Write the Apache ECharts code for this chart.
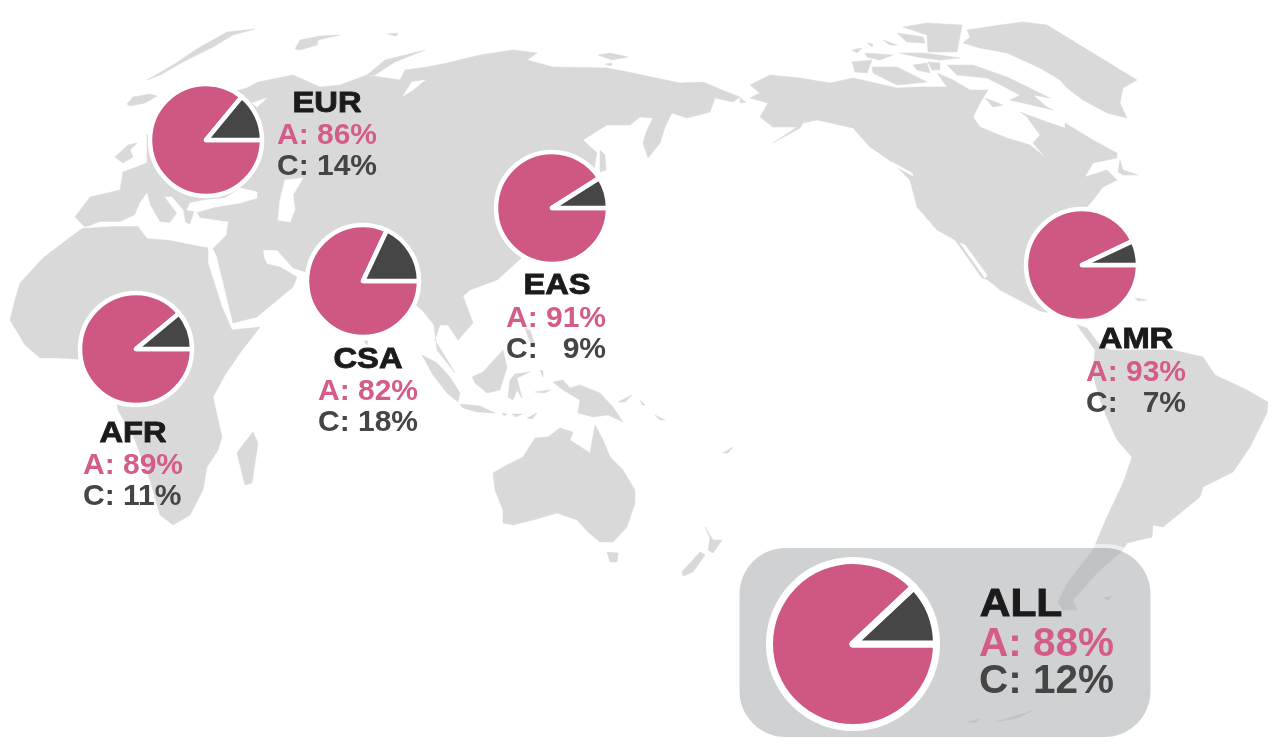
<!DOCTYPE html>
<html><head><meta charset="utf-8">
<style>html,body{margin:0;padding:0;background:#fff}#c{width:1280px;height:749px}</style>
<script src="https://cdn.jsdelivr.net/npm/echarts@6/dist/echarts.min.js"></script>
</head><body><div id="c"></div>
<script>
// ---- chart data ----
var regions = ['EUR','AFR','CSA','EAS','AMR','ALL'];
var shareA  = [86,89,82,91,93,88];
var shareC  = [14,11,18,9,7,12];
var labelA  = ['A: 86%','A: 89%','A: 82%','A: 91%','A: 93%','A: 88%'];
var labelC  = ['C: 14%','C: 11%','C: 18%','C:   9%','C:   7%','C: 12%'];

// ---- layout ----
var pieLayout = [
  {c:[206,140],r:56,b:4.5},{c:[136,349],r:56,b:4.5},{c:[363,281],r:56,b:4.5},
  {c:[552,208],r:56,b:4.5},{c:[1082,265],r:56,b:4.5},{c:[853,644],r:83.5,b:7}
];
var textLayout = [
  {tx:327,ty:104,lx:277,ay:136,cy:167,tf:30,lf:30},
  {tx:133,ty:434,lx:83,ay:466,cy:497,tf:30,lf:30},
  {tx:368,ty:360,lx:318,ay:392,cy:423,tf:30,lf:30},
  {tx:557,ty:286,lx:506,ay:319,cy:350,tf:30,lf:30},
  {tx:1136,ty:340,lx:1086,ay:373,cy:404,tf:30,lf:30},
  {tx:1021,ty:605,lx:979,ay:645,cy:682,tf:39,lf:40.5}
];

// ---- decorative base map outlines (screen space) ----
var eurasia = [[147,135],[200,100],[247,88],[258,82],[293,75],[320,87],[340,85],[367,75],[400,80],[405,70],[427,67],[447,63],[480,55],[513,50],[537,53],[527,60],[553,67],[607,68],[633,73],[680,83],[703,82],[727,92],[740,97],[733,102],[715,98],[710,112],[687,118],[672,113],[665,127],[660,143],[648,158],[643,143],[647,130],[653,118],[640,117],[630,125],[607,125],[583,140],[597,153],[590,190],[530,250],[517,262],[497,280],[470,290],[463,296],[473,323],[458,340],[448,325],[440,325],[435,340],[452,368],[455,373],[437,350],[434,325],[422,310],[410,300],[390,300],[368,338],[335,300],[315,275],[293,268],[277,250],[263,250],[264,258],[267,264],[280,267],[297,277],[293,287],[257,317],[233,323],[217,257],[213,248],[150,232],[84,226],[75,217],[90,197],[120,190],[123,172],[147,163]];
var africa = [[43,258],[60,245],[80,230],[90,224],[200,224],[208,250],[208,263],[222,307],[232,330],[260,327],[240,353],[225,375],[213,397],[222,437],[218,450],[207,467],[203,490],[190,515],[173,525],[160,515],[150,480],[135,440],[118,410],[115,385],[90,360],[60,358],[40,358],[25,345],[10,320],[15,300],[20,283]];
var northAmerica = [[750,85],[770,75],[800,78],[830,83],[853,78],[897,88],[917,87],[947,87],[937,73],[953,80],[970,90],[988,90],[980,103],[973,117],[980,127],[1007,138],[1030,145],[1045,157],[1033,143],[1040,135],[1027,117],[1020,112],[1047,122],[1065,128],[1065,123],[1093,140],[1117,153],[1117,158],[1093,163],[1085,177],[1107,170],[1117,180],[1103,187],[1093,200],[1087,207],[1075,260],[1090,320],[1040,311],[1000,290],[988,280],[982,278],[955,240],[937,230],[917,207],[910,180],[892,162],[870,147],[853,128],[817,120],[803,123],[800,128],[773,143],[797,127],[773,127],[760,117],[768,103],[750,98],[760,93]];
var southAmerica = [[1077,325],[1087,328],[1098,343],[1110,350],[1173,350],[1203,357],[1215,375],[1247,390],[1268,402],[1267,413],[1250,447],[1233,472],[1203,487],[1200,497],[1163,527],[1153,525],[1152,537],[1127,543],[1123,550],[1097,573],[1073,600],[1077,610],[1063,610],[1058,602],[1067,583],[1093,550],[1107,517],[1123,483],[1132,457],[1117,440],[1108,420],[1100,400],[1093,375],[1095,350]];
var greenland = [[967,30],[1000,25],[1023,22],[1047,25],[1137,80],[1123,88],[1120,103],[1127,118],[1107,113],[1083,100],[1067,88],[1060,80],[1040,68],[1007,53],[980,48],[963,43],[970,37]];
var australia = [[493,473],[507,465],[523,457],[535,438],[548,437],[560,428],[573,432],[570,440],[590,453],[595,425],[603,440],[610,457],[623,470],[635,490],[635,503],[627,527],[613,542],[600,542],[588,532],[577,520],[557,513],[533,520],[513,525],[503,523],[503,510],[495,490]];
var islands = [
  [[127,104],[133,97],[150,94],[157,96],[145,103],[130,106]],
  [[147,80],[173,65],[200,47],[227,32],[255,29],[233,35],[213,47],[183,62],[160,75]],
  [[295,49],[300,40],[320,36],[340,35],[318,40],[317,45],[300,50]],
  [[388,34],[398,33],[396,36]],
  [[367,75],[385,60],[425,50],[395,62],[375,75]],
  [[598,55],[610,53],[628,57],[612,60]],[[605,64],[612,63],[611,66]],
  [[115,157],[128,145],[137,143],[130,150],[133,157],[123,163]],
  [[600,150],[605,155],[606,170],[600,172]],[[364,341],[368,341],[367,345]],
  [[253,432],[258,443],[252,483],[245,485],[237,453],[245,442]],
  [[422,355],[437,363],[450,377],[460,393],[458,402],[447,393],[433,375]],
  [[460,404],[480,406],[495,413],[477,412],[463,408]],
  [[502,413],[507,414],[504,416]],[[512,414],[522,414],[516,417]],[[527,418],[537,413],[532,419]],
  [[472,377],[483,372],[503,350],[507,367],[500,390],[487,393],[475,383]],
  [[508,397],[510,380],[515,374],[530,372],[517,378],[522,398],[517,390],[513,400]],
  [[553,382],[563,380],[570,388],[580,385],[600,393],[613,407],[623,422],[608,415],[593,417],[578,413],[580,400],[563,390]],
  [[618,402],[632,395],[625,402]],[[640,400],[645,405],[642,405]],[[655,415],[665,420],[660,420]],
  [[525,328],[530,330],[535,345],[530,342]],[[540,370],[543,371],[543,377]],[[535,392],[550,390],[545,393]],
  [[723,453],[733,447],[728,453]],
  [[607,552],[618,553],[617,562],[610,562]],
  [[705,527],[713,540],[722,540],[713,553],[708,550],[710,538]],
  [[700,552],[705,555],[693,572],[683,576],[682,572],[690,563]],
  [[852,62],[872,60],[867,73],[855,72]],
  [[872,67],[897,67],[927,82],[897,85],[873,73]],
  [[852,50],[862,48],[857,53]],[[865,53],[893,55],[880,60],[867,57]],
  [[867,43],[873,44],[872,47]],[[883,40],[897,45],[890,45]],
  [[897,33],[923,37],[925,43],[907,42]],
  [[903,27],[927,23],[962,25],[957,52],[928,52],[927,35]],
  [[900,53],[925,53],[960,58],[940,60],[917,57]],
  [[913,65],[927,63],[930,73],[917,70]],[[928,62],[940,63],[940,70],[932,70]],
  [[947,65],[973,65],[1007,77],[1050,98],[1033,95],[1047,107],[1053,110],[1010,100],[1020,95],[987,78],[957,75]],
  [[985,98],[1003,105],[993,107]],
  [[1120,160],[1123,170],[1138,175],[1123,175],[1118,172]],
  [[1135,298],[1147,300],[1138,301]],[[740,98],[746,102],[740,103]],
  [[1103,598],[1112,596],[1108,600]],[[968,722],[980,719],[975,723]],[[995,722],[1032,711],[1017,718]]
];
var seas = [
  [[84,228],[100,222],[120,222],[135,215],[140,203],[147,193],[150,205],[160,222],[170,223],[177,213],[165,197],[172,197],[183,210],[185,222],[190,225],[195,210],[200,218],[228,222],[226,235],[213,248],[200,246],[170,240],[147,238],[138,226],[113,226]],
  [[190,203],[205,200],[225,198],[240,188],[257,192],[257,198],[240,203],[215,207],[198,212],[187,210]],
  [[285,180],[303,178],[293,195],[295,210],[290,222],[278,220],[280,200]],
  [[252,103],[267,98],[257,107]],[[403,96],[412,82],[425,80],[413,90]],
  [[960,243],[965,245],[987,275],[985,278]],[[892,162],[912,173],[913,176],[895,166]]
];

// ---- graphics ----
var LAND = '#d9d9da';
var g = [];
function land(pts){ g.push({type:'polygon',silent:true,shape:{points:pts},style:{fill:LAND,stroke:LAND,lineWidth:0.5,lineJoin:'round'}}); }
[eurasia,africa,northAmerica,southAmerica,greenland,australia].forEach(land);
seas.forEach(function(p){ g.push({type:'polygon',silent:true,shape:{points:p},style:{fill:'#fff',stroke:'#fff',lineWidth:0.5,lineJoin:'round'}}); });
islands.forEach(land);
g.push({type:'rect',silent:true,shape:{x:737,y:546,width:416,height:193,r:48},style:{fill:'none',stroke:'rgba(255,255,255,0.55)',lineWidth:4}});
g.push({type:'rect',silent:true,shape:{x:739.5,y:548,width:411,height:189,r:46},style:{fill:'rgba(175,178,180,0.6)'}});

var FONT = '"Liberation Sans",Arial,sans-serif';
regions.forEach(function(name,i){
  var t = textLayout[i];
  g.push({type:'text',silent:true,x:t.tx,y:t.ty,scaleX:1.09,style:{text:name,fill:'#1b1b1b',stroke:'#1b1b1b',lineWidth:0.9,font:'bold '+t.tf+'px '+FONT,align:'center',verticalAlign:'middle'}});
  g.push({type:'text',silent:true,x:t.lx,y:t.ay,style:{text:labelA[i],fill:'#d45c8a',font:'bold '+t.lf+'px '+FONT,align:'left',verticalAlign:'middle'}});
  g.push({type:'text',silent:true,x:t.lx,y:t.cy,style:{text:labelC[i],fill:'#454545',font:'bold '+t.lf+'px '+FONT,align:'left',verticalAlign:'middle'}});
});

var series = regions.map(function(name,i){
  var p = pieLayout[i];
  return {type:'pie',name:name,center:p.c,radius:[0,p.r],startAngle:0,clockwise:true,silent:true,animation:false,
    label:{show:false},labelLine:{show:false},
    itemStyle:{borderColor:'#fff',borderWidth:p.b,borderJoin:'round'},
    data:[{name:'A',value:shareA[i],itemStyle:{color:'#cf5783'}},{name:'C',value:shareC[i],itemStyle:{color:'#464646'}}]};
});

var chart = echarts.init(document.getElementById('c'),null,{renderer:'canvas'});
chart.setOption({backgroundColor:'#fff',animation:false,graphic:{elements:g},series:series});
</script></body></html>
